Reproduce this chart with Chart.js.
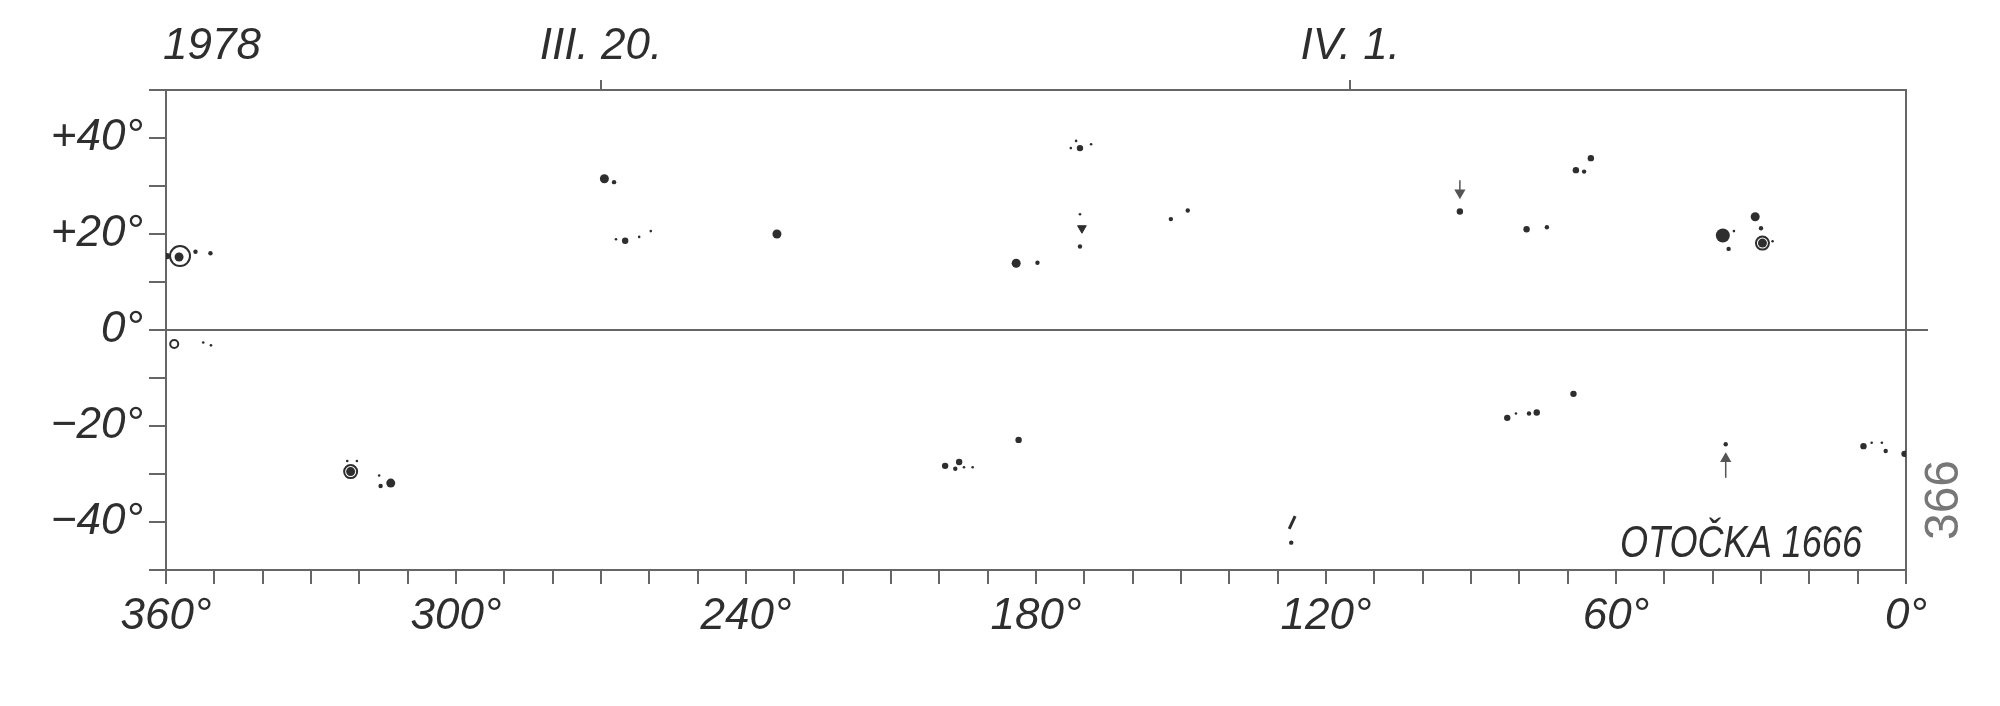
<!DOCTYPE html>
<html>
<head>
<meta charset="utf-8">
<script src="https://cdn.jsdelivr.net/npm/chart.js@4"></script>
<style>
  html, body { margin: 0; padding: 0; background: #fff; }
  #wrap { width: 2000px; height: 706px; }
</style>
</head>
<body>
<div id="wrap"><canvas id="chart"></canvas></div>
<script>
// Carrington longitude (deg) / heliographic latitude (deg) of spots
var ringLarge = [{x: 357.1, y: 15.4}];
var ringMedium = [{x: 29.7, y: 18.1}, {x: 321.8, y: -29.5}];
var ringSmall = [{x: 358.3, y: -2.9}];
var blob = [{x: 37.9, y: 19.7}];
var largeSpots = [
  {x: 357.3, y: 15.2}, {x: 321.8, y: -29.5}, {x: 313.5, y: -31.9}, {x: 29.7, y: 18.1},
  {x: 31.2, y: 23.6}, {x: 269.3, y: 31.5}, {x: 184.1, y: 13.9}, {x: 233.6, y: 20.0}
];
var mediumSpots = [
  {x: 359.8, y: 15.4}, {x: 265.0, y: 18.6}, {x: 170.9, y: 37.9}, {x: 183.6, y: -22.9},
  {x: 198.8, y: -28.3}, {x: 78.5, y: 21.0}, {x: 68.3, y: 33.3}, {x: 65.2, y: 35.8},
  {x: 82.5, y: -18.3}, {x: 76.4, y: -17.2}, {x: 68.8, y: -13.3}, {x: 8.8, y: -24.2},
  {x: 0.3, y: -25.8}, {x: 92.3, y: 24.7}, {x: 195.9, y: -27.5}
];
var smallSpots = [
  {x: 152.1, y: 23.1}, {x: 148.6, y: 24.9}, {x: 37.3, y: -23.8}, {x: 170.9, y: 17.4},
  {x: 179.7, y: 14.0}, {x: 353.9, y: 16.3}, {x: 350.8, y: 16.0}, {x: 74.3, y: 21.4},
  {x: 66.6, y: 33.0}, {x: 78.0, y: -17.4}, {x: 4.2, y: -25.2}, {x: 36.7, y: 16.9},
  {x: 30.0, y: 21.2}, {x: 196.7, y: -28.9}, {x: 127.2, y: -44.3}, {x: 267.3, y: 30.8},
  {x: 315.6, y: -32.5}
];
var tinySpots = [
  {x: 352.3, y: -2.6}, {x: 350.7, y: -3.2}, {x: 266.9, y: 18.9}, {x: 262.1, y: 19.4},
  {x: 259.7, y: 20.6}, {x: 322.5, y: -27.3}, {x: 320.5, y: -27.3}, {x: 315.9, y: -30.3},
  {x: 168.6, y: 38.7}, {x: 172.8, y: 37.9}, {x: 171.7, y: 39.4}, {x: 194.9, y: -28.6},
  {x: 193.1, y: -28.6}, {x: 80.7, y: -17.4}, {x: 7.1, y: -23.5}, {x: 5.0, y: -23.5},
  {x: 35.6, y: 20.6}, {x: 27.6, y: 18.5}, {x: 170.9, y: 24.1}
];
var vMarks = [{x: 170.5, y: 21.2}];
var slashMarks = [{x: 127.0, y: -40.1}];
var downArrow = [{x: 92.3, y: 31.2}, {x: 92.3, y: 28.6}];
var upArrow = [{x: 37.3, y: -30.8}, {x: 37.3, y: -26.8}];

var topTickValues = [350.5, 270, 115];
var topTickLabels = ['1978', 'III. 20.', 'IV. 1.'];
var plateLabel = 'OTOČKA 1666';
var pageLabel = '366';

var ink = '#2e2e2e';
var line = '#666';
var font = {family: '"Liberation Sans", Arial, sans-serif', size: 44, style: 'italic'};

var captions = {
  id: 'captions',
  afterDraw: function (chart) {
    var ctx = chart.ctx, area = chart.chartArea;
    ctx.save();
    ctx.fillStyle = ink;
    ctx.font = 'italic 44px "Liberation Sans"';
    ctx.textAlign = 'right';
    ctx.textBaseline = 'alphabetic';
    ctx.translate(area.right - 44, area.bottom - 13);
    ctx.scale(0.82, 1);
    ctx.fillText(plateLabel, 0, 0);
    ctx.restore();

    ctx.save();
    ctx.fillStyle = '#777';
    ctx.font = '48px "Liberation Sans"';
    ctx.textAlign = 'center';
    ctx.textBaseline = 'middle';
    ctx.translate(area.right + 39, area.bottom - 70);
    ctx.rotate(-Math.PI / 2);
    ctx.fillText(pageLabel, 0, 0);
    ctx.restore();
  }
};

function spots(data, r) {
  return {data: data, pointRadius: r, pointHoverRadius: r, backgroundColor: ink, borderColor: ink, borderWidth: 0};
}
function ring(data, r) {
  return {data: data, pointRadius: r, pointHoverRadius: r, backgroundColor: 'transparent', borderColor: ink, borderWidth: 2};
}
function arrow(data, rot) {
  return {
    type: 'line', data: data, showLine: true, borderColor: '#555', borderWidth: 1.5,
    pointRadius: [0, 5], pointStyle: 'triangle', rotation: [0, rot],
    backgroundColor: '#555', pointBorderColor: '#555'
  };
}
function zeroOnly(c) {
  return c.tick && c.tick.value === 0 ? line : 'rgba(0,0,0,0)';
}

new Chart(document.getElementById('chart'), {
  type: 'scatter',
  data: {
    datasets: [
      ring(ringLarge, 10),
      ring(ringMedium, 6.5),
      ring(ringSmall, 4),
      spots(blob, 7),
      spots(largeSpots, 4.5),
      spots(mediumSpots, 3.2),
      spots(smallSpots, 2.2),
      spots(tinySpots, 1.3),
      {data: vMarks, pointStyle: 'triangle', rotation: 180, pointRadius: 5, backgroundColor: ink, borderColor: ink},
      {data: slashMarks, pointStyle: 'line', rotation: -65, pointRadius: 7, borderColor: ink, borderWidth: 3},
      arrow(downArrow, 180),
      arrow(upArrow, 0)
    ]
  },
  options: {
    responsive: true,
    maintainAspectRatio: false,
    animation: false,
    events: [],
    layout: {padding: 0},
    plugins: {legend: {display: false}, tooltip: {enabled: false}},
    scales: {
      x: {
        type: 'linear', position: 'bottom', min: 0, max: 360, reverse: true,
        afterFit: function (s) { s.height = 136; },
        ticks: {
          stepSize: 10, autoSkip: false, maxRotation: 0, color: ink, font: font, padding: 6,
          callback: function (v) { return v % 60 === 0 ? v + '°' : ''; }
        },
        grid: {drawOnChartArea: false, tickLength: 14, color: line, lineWidth: 2},
        border: {display: true, color: line, width: 2}
      },
      x2: {
        type: 'linear', position: 'top', min: 0, max: 360, reverse: true,
        afterFit: function (s) { s.height = 90; },
        afterBuildTicks: function (s) {
          s.ticks = topTickValues.map(function (v) { return {value: v}; });
        },
        ticks: {
          autoSkip: false, maxRotation: 0, color: ink, font: font, padding: 7,
          callback: function (v, i) { return topTickLabels[i]; }
        },
        grid: {
          drawOnChartArea: false, tickLength: 10, lineWidth: 2,
          tickColor: function (c) { return c.index === 0 ? 'rgba(0,0,0,0)' : line; }
        },
        border: {display: true, color: line, width: 2}
      },
      y: {
        type: 'linear', position: 'left', min: -50, max: 50,
        afterFit: function (s) { s.width = 166; },
        ticks: {
          stepSize: 10, autoSkip: false, color: ink, font: font, padding: 6,
          callback: function (v) {
            if (v % 20 !== 0) return '';
            return (v > 0 ? '+' + v : v < 0 ? '−' + Math.abs(v) : '0') + '°';
          }
        },
        grid: {tickLength: 17, lineWidth: 2, tickColor: line, color: zeroOnly},
        border: {display: true, color: line, width: 2}
      },
      y2: {
        type: 'linear', position: 'right', min: -50, max: 50, display: true,
        afterFit: function (s) { s.width = 94; },
        ticks: {display: false, stepSize: 10},
        grid: {drawOnChartArea: false, tickLength: 22, lineWidth: 2, color: zeroOnly},
        border: {display: true, color: line, width: 2}
      }
    }
  },
  plugins: [captions]
});
</script>
</body>
</html>
